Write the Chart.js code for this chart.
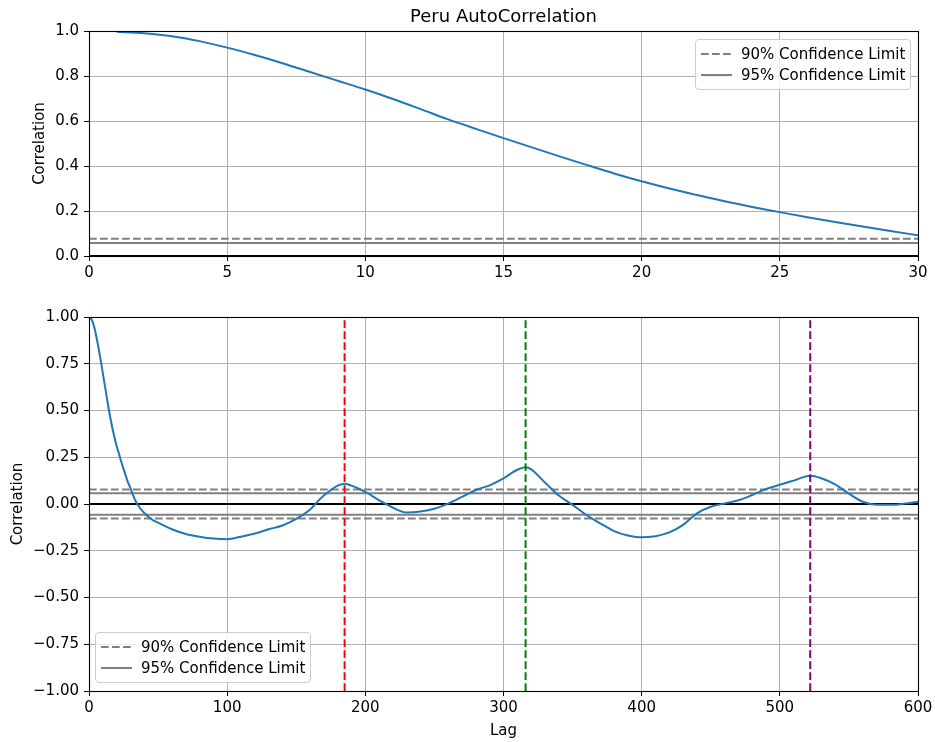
<!DOCTYPE html>
<html><head><meta charset="utf-8">
<script src="https://cdn.jsdelivr.net/npm/chart.js@4.4.1/dist/chart.umd.min.js"></script>
<style>
html,body{margin:0;padding:0;background:#fff;}
body{width:935px;height:742px;position:relative;overflow:hidden;font-family:'DejaVu Sans',sans-serif;}
.box{position:absolute;}
.legend{position:absolute;border:1px solid #cccccc;border-radius:4px;background:rgba(255,255,255,0.8);box-sizing:border-box;}
.item{position:absolute;left:0;height:20px;font-size:15px;line-height:20px;color:#000;white-space:nowrap;}
.item svg{position:absolute;left:5px;top:0;}
.item span{position:absolute;left:45px;top:0;}
</style></head><body>
<div class="box" style="left:0;top:0;width:935px;height:290px;"><canvas id="c1"></canvas></div>
<div class="box" style="left:0;top:290px;width:935px;height:452px;"><canvas id="c2"></canvas></div>
<div class="legend" id="leg1" style="left:695px;top:39px;width:216px;height:51px;"></div>
<div class="legend" id="leg2" style="left:95px;top:632px;width:216px;height:51px;"></div>
<script>
// ---- data ----
const chartTitle = "Peru AutoCorrelation";
const topLags = [1,2,3,4,5,6,7,8,9,10,11,12,13,14,15,16,17,18,19,20,21,22,23,24,25,26,27,28,29,30];
const topAcf  = [0.997,0.990,0.977,0.955,0.926,0.893,0.857,0.818,0.779,0.740,0.698,0.653,0.607,0.565,0.524,0.484,0.444,0.405,0.367,0.332,0.300,0.271,0.243,0.218,0.195,0.172,0.151,0.131,0.111,0.092];
const lags = [0,2,4,6,8,10,12,14,16,18,20,22,24,26,28,30,32,34,36,38,40,45,50,60,70,80,90,100,110,120,130,140,150,160,165,170,175,180,185,190,200,210,220,230,240,250,260,270,280,290,300,310,316,320,330,340,350,360,370,380,390,400,410,420,430,440,450,460,470,480,490,500,510,522,530,540,550,560,570,580,590,600];
const acf  = [1.0,0.985,0.94,0.87,0.788,0.70,0.61,0.52,0.44,0.37,0.31,0.26,0.21,0.165,0.12,0.085,0.045,0.012,-0.012,-0.032,-0.048,-0.08,-0.10,-0.135,-0.16,-0.175,-0.185,-0.188,-0.175,-0.158,-0.135,-0.115,-0.08,-0.03,0.01,0.045,0.075,0.098,0.108,0.098,0.065,0.02,-0.02,-0.046,-0.04,-0.025,0.002,0.038,0.075,0.10,0.137,0.183,0.196,0.185,0.115,0.045,-0.005,-0.059,-0.103,-0.145,-0.168,-0.178,-0.172,-0.152,-0.112,-0.05,-0.015,0.003,0.02,0.048,0.08,0.103,0.125,0.151,0.138,0.105,0.055,0.012,-0.004,-0.004,0.002,0.012];
const peakLags = [185, 316, 522];
const conf90 = 0.077;
const conf95 = 0.058;
const legendLabels = ["90% Confidence Limit", "95% Confidence Limit"];
const yLabel = "Correlation";
const xLabel = "Lag";

// ---- styles ----
const FONT = "'DejaVu Sans', sans-serif";
const FS = 15;
const BLUE = '#1f77b4', GREY = '#808080';
const DASH = [7.7, 3.3];
const peakColors = ['#ff0000', '#008000', '#800080'];

function hline(y, xmin, xmax, color, dash, width, clip) {
  return {data:[{x:xmin,y:y},{x:xmax,y:y}], borderColor:color, borderWidth:width, borderDash:dash||[], pointRadius:0, fill:false, clip: clip===undefined?undefined:clip, borderCapStyle:'butt'};
}
function vline(x, ymin, ymax, color) {
  return {data:[{x:x,y:ymin},{x:x,y:ymax}], borderColor:color, borderWidth:2, borderDash:DASH, pointRadius:0, fill:false, borderCapStyle:'butt'};
}
function fitFix(prop, val) {
  return function(s){ s[prop]=val; s.paddingLeft=0; s.paddingRight=0; s.paddingTop=0; s.paddingBottom=0; };
}
function xScale(min, max, step, height, title) {
  return {type:'linear', min:min, max:max,
    ticks:{stepSize:step, autoSkip:false, maxRotation:0, padding:3, color:'#000', font:{family:FONT,size:FS}, callback:v=>String(v)},
    grid:{color:'#b0b0b0', lineWidth:1, tickColor:'#000', tickLength:5, drawTicks:true},
    border:{display:false},
    title: title ? {display:true, text:title, color:'#000', font:{family:FONT,size:FS}, padding:{top:0,bottom:2}} : {display:false},
    afterFit: fitFix('height', height)};
}
function yScale(min, max, step, width, titlePad, digits) {
  return {type:'linear', min:min, max:max,
    ticks:{stepSize:step, autoSkip:false, padding:5, color:'#000', font:{family:FONT,size:FS},
      callback:v=>v.toFixed(digits).replace('-', '\u2212')},
    grid:{color:'#b0b0b0', lineWidth:1, tickColor:'#000', tickLength:5, drawTicks:true},
    border:{display:false},
    title:{display:true, text:yLabel, color:'#000', font:{family:FONT,size:FS}, padding:{top:titlePad,bottom:0}},
    afterFit: fitFix('width', width)};
}
const framePlugin = {id:'frame', afterDatasetsDraw(chart){
  const a = chart.chartArea, ctx = chart.ctx;
  ctx.save(); ctx.strokeStyle='#000'; ctx.lineWidth=1.1;
  ctx.strokeRect(Math.round(a.left)+0.5, Math.round(a.top)+0.5, Math.round(a.right-a.left), Math.round(a.bottom-a.top));
  ctx.restore();
}};
const titlePlugin = {id:'ttl', afterDraw(chart){
  const a = chart.chartArea, ctx = chart.ctx;
  ctx.save(); ctx.fillStyle='#000'; ctx.font='18px '+FONT; ctx.textAlign='center'; ctx.textBaseline='middle';
  ctx.fillText(chartTitle, (a.left+a.right)/2, 17);
  ctx.restore();
}};
const baseOpts = {responsive:true, maintainAspectRatio:false, animation:false, events:[],
  plugins:{legend:{display:false}, tooltip:{enabled:false}, title:{display:false}}};

// ---- top chart ----
new Chart(document.getElementById('c1'), {
  type:'line',
  data:{datasets:[
    {data: topLags.map((l,i)=>({x:l,y:topAcf[i]})), borderColor:BLUE, borderWidth:2, pointRadius:0, fill:false, cubicInterpolationMode:'monotone'},
    hline(conf90, 0, 30, GREY, DASH, 2),
    hline(conf95, 0, 30, GREY, [], 2),
    hline(0, 0, 30, '#000', [], 2, {left:0,top:0,right:0,bottom:2})
  ]},
  options: Object.assign({}, baseOpts, {
    layout:{padding:{left:0, right:17, top:31, bottom:0}},
    scales:{x: xScale(0, 30, 5, 34, null), y: yScale(0, 1, 0.2, 89, 31, 1)}
  }),
  plugins:[framePlugin, titlePlugin]
});

// ---- bottom chart ----
new Chart(document.getElementById('c2'), {
  type:'line',
  data:{datasets:[
    vline(peakLags[0], -1, 1, peakColors[0]),
    vline(peakLags[1], -1, 1, peakColors[1]),
    vline(peakLags[2], -1, 1, peakColors[2]),
    {data: lags.map((l,i)=>({x:l,y:acf[i]})), borderColor:BLUE, borderWidth:2, pointRadius:0, fill:false, cubicInterpolationMode:'monotone'},
    hline(conf90, 0, 600, GREY, DASH, 2),
    hline(conf95, 0, 600, GREY, [], 2),
    hline(0, 0, 600, '#000', [], 2),
    hline(-conf95, 0, 600, GREY, [], 2),
    hline(-conf90, 0, 600, GREY, DASH, 2)
  ]},
  options: Object.assign({}, baseOpts, {
    layout:{padding:{left:0, right:17, top:27, bottom:0}},
    scales:{x: xScale(0, 600, 100, 51, xLabel), y: yScale(-1, 1, 0.25, 89, 9, 2)}
  }),
  plugins:[framePlugin]
});

// ---- legends ----
function buildLegend(id) {
  const el = document.getElementById(id);
  legendLabels.forEach((t, i) => {
    const d = document.createElement('div');
    d.className = 'item';
    d.style.top = (4 + i*21) + 'px';
    d.innerHTML = '<svg width="31" height="20"><line x1="0" y1="10" x2="31" y2="10" stroke="'+GREY+'" stroke-width="2"'+(i===0?' stroke-dasharray="7.7 3.3"':'')+'/></svg><span></span>';
    d.querySelector('span').textContent = t;
    el.appendChild(d);
  });
}
buildLegend('leg1');
buildLegend('leg2');
</script>
</body></html>
